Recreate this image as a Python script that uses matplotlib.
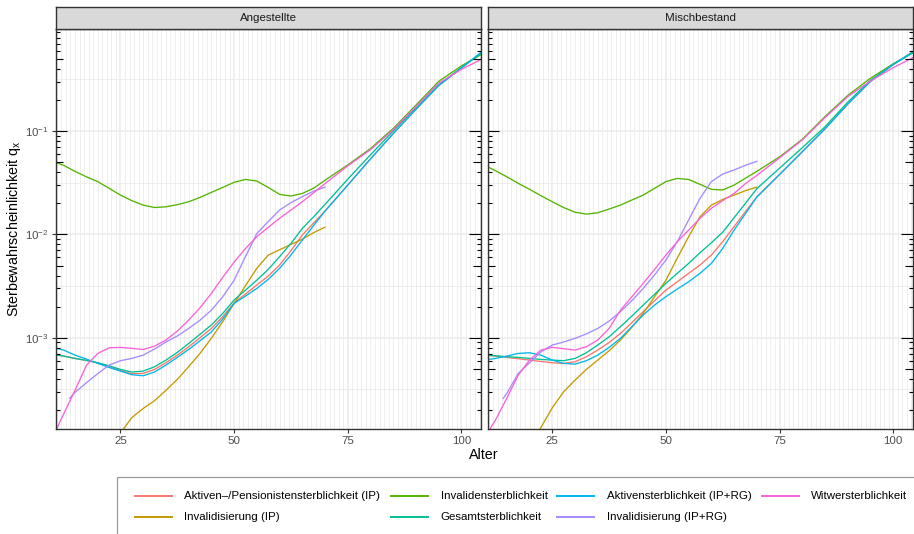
import numpy as np
import matplotlib
matplotlib.use("Agg")
import matplotlib.pyplot as plt
from matplotlib.ticker import FixedLocator, MultipleLocator, LogFormatterMathtext, NullFormatter
from matplotlib.transforms import blended_transform_factory
from matplotlib.lines import Line2D
from matplotlib.patches import Rectangle

plt.rcParams["font.family"] = ["Liberation Sans", "DejaVu Sans"]

# ---- data ----
panels = ["Angestellte", "Mischbestand"]
series_names = [
    "Aktiven\u2013/Pensionistensterblichkeit (IP)",
    "Invalidisierung (IP)",
    "Invalidensterblichkeit",
    "Gesamtsterblichkeit",
    "Aktivensterblichkeit (IP+RG)",
    "Invalidisierung (IP+RG)",
    "Witwersterblichkeit",
]
colors = ["#F8766D", "#C49A00", "#53B400", "#00C094", "#00B6EB", "#A58AFF", "#FB61D7"]

ages_grid = [10, 12.5, 15, 17.5, 20, 22.5, 25, 27.5, 30, 32.5, 35, 37.5, 40, 42.5, 45, 47.5, 50,
             52.5, 55, 57.5, 60, 62.5, 65, 67.5, 70, 75, 80, 85, 90, 95, 100, 105]

# --- Angestellte ---
ang_aktiv_ip = [7.0e-4, 6.65e-4, 6.31e-4, 6.04e-4, 5.73e-4, 5.24e-4, 4.80e-4, 4.49e-4, 4.52e-4, 4.94e-4,
                5.73e-4, 6.79e-4, 8.18e-4, 1.0e-3, 1.23e-3, 1.60e-3, 2.18e-3, 2.65e-3, 3.24e-3, 3.95e-3,
                5.05e-3, 6.95e-3, 9.86e-3, 0.0129, 0.0168, 0.030, 0.0537, 0.0944, 0.162, 0.275, 0.407, 0.60]
ang_gesamt = [6.9e-4, 6.65e-4, 6.31e-4, 6.04e-4, 5.73e-4, 5.36e-4, 4.94e-4, 4.66e-4, 4.76e-4, 5.24e-4,
              6.08e-4, 7.21e-4, 8.81e-4, 1.08e-3, 1.33e-3, 1.72e-3, 2.32e-3, 2.89e-3, 3.61e-3, 4.58e-3,
              6.08e-3, 8.18e-3, 0.0114, 0.0148, 0.0195, 0.0342, 0.0589, 0.1, 0.168, 0.279, 0.412, 0.59]
ang_aktiv_rg = [8.1e-4, 7.6e-4, 6.79e-4, 6.22e-4, 5.65e-4, 5.16e-4, 4.76e-4, 4.39e-4, 4.29e-4, 4.66e-4,
                5.44e-4, 6.46e-4, 7.71e-4, 9.35e-4, 1.14e-3, 1.52e-3, 2.15e-3, 2.53e-3, 3.0e-3, 3.67e-3,
                4.69e-3, 6.31e-3, 8.81e-3, 0.0122, 0.0168, 0.030, 0.0537, 0.0944, 0.162, 0.275, 0.407, 0.61]
ang_invsterb = [0.051, 0.0466, 0.0407, 0.0361, 0.0324, 0.0279, 0.0240, 0.0212, 0.0192, 0.0182, 0.0185,
                0.0194, 0.0207, 0.0228, 0.0255, 0.0285, 0.0319, 0.0340, 0.0328, 0.0285, 0.0244, 0.0235,
                0.0249, 0.028, 0.0334, 0.047, 0.0676, 0.106, 0.178, 0.302, 0.427, 0.57]
ang_witwer_ages = [10, 12, 15, 17.5, 20, 22.5, 25, 27.5, 30, 32.5, 35, 37.5, 40, 42.5, 45, 47.5, 50,
                   52.5, 55, 57.5, 60, 62.5, 65, 67.5, 70, 75, 80, 85, 90, 95, 100, 105]
ang_witwer = [1.05e-4, 1.65e-4, 3.1e-4, 5.4e-4, 7.05e-4, 8.0e-4, 8.07e-4, 7.9e-4, 7.7e-4, 8.3e-4, 9.5e-4,
              1.16e-3, 1.48e-3, 1.95e-3, 2.69e-3, 3.84e-3, 5.4e-3, 7.3e-3, 9.5e-3, 0.0117, 0.0143, 0.0172,
              0.0207, 0.0253, 0.031, 0.046, 0.066, 0.103, 0.172, 0.29, 0.395, 0.51]
ang_inv_rg_ages = [13.8, 15, 17.5, 20, 22.5, 25, 27.5, 30, 32.5, 35, 37.5, 40, 42.5, 45, 47.5, 50, 52.5,
                   55, 57.5, 60, 62.5, 65, 67.5, 70]
ang_inv_rg = [2.59e-4, 2.96e-4, 3.67e-4, 4.5e-4, 5.44e-4, 6.0e-4, 6.31e-4, 6.79e-4, 7.78e-4, 9.1e-4,
              1.04e-3, 1.23e-3, 1.48e-3, 1.85e-3, 2.49e-3, 3.6e-3, 6.1e-3, 0.0102, 0.0133, 0.0172, 0.0203,
              0.0232, 0.0262, 0.0287]
ang_inv_ip_ages = [24, 25.6, 27.5, 30, 32.5, 35, 37.5, 40, 42.5, 45, 47.5, 50, 52.5, 55, 57.5, 60, 62.5,
                   65, 67.5, 70]
ang_inv_ip = [1.0e-4, 1.3e-4, 1.69e-4, 2.07e-4, 2.46e-4, 3.1e-4, 3.95e-4, 5.25e-4, 7.05e-4, 9.9e-4,
              1.43e-3, 2.15e-3, 3.19e-3, 4.7e-3, 6.3e-3, 7.1e-3, 8.0e-3, 9.0e-3, 0.0104, 0.01175]

# --- Mischbestand ---
mis_aktiv_ip = [6.79e-4, 6.65e-4, 6.46e-4, 6.27e-4, 6.08e-4, 5.9e-4, 5.73e-4, 5.65e-4, 5.86e-4, 6.55e-4,
                7.6e-4, 9.0e-4, 1.1e-3, 1.40e-3, 1.79e-3, 2.28e-3, 2.89e-3, 3.48e-3, 4.2e-3, 5.05e-3,
                6.31e-3, 8.5e-3, 0.0119, 0.0166, 0.023, 0.038, 0.063, 0.105, 0.182, 0.302, 0.44, 0.61]
mis_gesamt = [6.79e-4, 6.70e-4, 6.55e-4, 6.46e-4, 6.31e-4, 6.17e-4, 6.08e-4, 6.0e-4, 6.31e-4, 7.16e-4,
              8.5e-4, 1.02e-3, 1.28e-3, 1.62e-3, 2.07e-3, 2.63e-3, 3.36e-3, 4.2e-3, 5.24e-3, 6.65e-3,
              8.3e-3, 0.0105, 0.0145, 0.020, 0.0277, 0.0437, 0.069, 0.11, 0.19, 0.31, 0.44, 0.596]
mis_aktiv_rg = [6.08e-4, 6.31e-4, 6.65e-4, 7.05e-4, 7.16e-4, 6.79e-4, 6.08e-4, 5.65e-4, 5.56e-4, 6.0e-4,
                6.79e-4, 8.07e-4, 9.86e-4, 1.28e-3, 1.66e-3, 2.07e-3, 2.5e-3, 2.96e-3, 3.48e-3, 4.2e-3,
                5.24e-3, 7.32e-3, 0.011, 0.0159, 0.023, 0.038, 0.063, 0.105, 0.182, 0.302, 0.44, 0.61]
mis_invsterb = [0.047, 0.0413, 0.0361, 0.0312, 0.0273, 0.0237, 0.0207, 0.0182, 0.0164, 0.0157, 0.0162,
                0.0176, 0.0192, 0.0215, 0.0240, 0.0279, 0.0324, 0.0348, 0.0340, 0.0305, 0.0273, 0.0269,
                0.0300, 0.035, 0.0407, 0.0562, 0.0832, 0.138, 0.221, 0.324, 0.447, 0.596]
mis_witwer_ages = [10, 11.6, 12.5, 15, 17.5, 20, 22.5, 25, 27.5, 30, 32.5, 35, 37.5, 40, 42.5, 45, 47.5,
                   50, 52.5, 55, 57.5, 60, 62.5, 65, 67.5, 70, 75, 80, 85, 90, 95, 100, 105]
mis_witwer = [1.0e-4, 1.38e-4, 1.6e-4, 2.6e-4, 4.35e-4, 6.08e-4, 7.6e-4, 8.07e-4, 7.83e-4, 7.6e-4,
              8.18e-4, 9.5e-4, 1.23e-3, 1.85e-3, 2.49e-3, 3.36e-3, 4.58e-3, 6.3e-3, 8.5e-3, 0.011, 0.0143,
              0.0179, 0.0212, 0.0249, 0.031, 0.0372, 0.055, 0.082, 0.135, 0.215, 0.305, 0.41, 0.53]
mis_inv_rg_ages = [14.2, 15, 17.5, 20, 22.5, 25, 27.5, 30, 32.5, 35, 37.5, 40, 42.5, 45, 47.5, 50, 52.5,
                   55, 57.5, 60, 62.5, 65, 67.5, 70]
mis_inv_rg = [2.59e-4, 2.9e-4, 4.5e-4, 5.73e-4, 7.3e-4, 8.5e-4, 9.1e-4, 9.86e-4, 1.09e-3, 1.23e-3,
              1.45e-3, 1.79e-3, 2.28e-3, 3.0e-3, 4.05e-3, 5.65e-3, 8.5e-3, 0.0138, 0.0223, 0.0324, 0.0384,
              0.042, 0.0466, 0.0509]
mis_inv_ip_ages = [21.5, 22.6, 25, 27.5, 30, 32.5, 35, 37.5, 40, 42.5, 45, 47.5, 50, 52.5, 55, 57.5, 60,
                   62.5, 65, 67.5, 70]
mis_inv_ip = [1.1e-4, 1.38e-4, 2.1e-4, 3.0e-4, 3.89e-4, 4.94e-4, 6.08e-4, 7.48e-4, 9.5e-4, 1.26e-3,
              1.72e-3, 2.49e-3, 3.6e-3, 5.9e-3, 9.5e-3, 0.0148, 0.0192, 0.0218, 0.024, 0.0265, 0.0287]

panel_data = {
    "Angestellte": [
        (ages_grid, ang_aktiv_ip), (ang_inv_ip_ages, ang_inv_ip), (ages_grid, ang_invsterb),
        (ages_grid, ang_gesamt), (ages_grid, ang_aktiv_rg), (ang_inv_rg_ages, ang_inv_rg),
        (ang_witwer_ages, ang_witwer)],
    "Mischbestand": [
        (ages_grid, mis_aktiv_ip), (mis_inv_ip_ages, mis_inv_ip), (ages_grid, mis_invsterb),
        (ages_grid, mis_gesamt), (ages_grid, mis_aktiv_rg), (mis_inv_rg_ages, mis_inv_rg),
        (mis_witwer_ages, mis_witwer)],
}

x_ticks = [25, 50, 75, 100]
y_ticks = [1e-3, 1e-2, 1e-1]

# ---- layout ----
W, H = 914, 534
fig = plt.figure(figsize=(W / 100, H / 100), dpi=100)

panel_px = [(55.7, 480.7), (487.5, 912.5)]
top_px, bottom_px = 29, 429
grey30 = "#4D4D4D"

for i, name in enumerate(panels):
    x0, x1 = panel_px[i]
    ax = fig.add_axes([x0 / W, 1 - bottom_px / H, (x1 - x0) / W, (bottom_px - top_px) / H])
    ax.set_yscale("log")
    ax.set_xlim(10.75, 104.25)
    ax.set_ylim(1.31e-4, 0.971)

    # grid
    ax.xaxis.set_major_locator(FixedLocator(x_ticks))
    ax.xaxis.set_minor_locator(MultipleLocator(1))
    ax.yaxis.set_major_locator(FixedLocator(y_ticks))
    ax.yaxis.set_minor_locator(FixedLocator([10 ** -3.5, 10 ** -2.5, 10 ** -1.5, 10 ** -0.5]))
    ax.yaxis.set_minor_formatter(NullFormatter())
    ax.grid(which="major", color="#EBEBEB", lw=1.1)
    ax.grid(which="minor", color="#EBEBEB", lw=0.6)
    ax.set_axisbelow(True)
    ax.tick_params(which="minor", length=0)
    ax.tick_params(which="major", direction="out", length=2.75, width=0.8, color="#333333",
                   labelsize=8.25, labelcolor=grey30, pad=2)
    if i == 0:
        ax.yaxis.set_major_formatter(LogFormatterMathtext())
    else:
        ax.tick_params(axis="y", which="both", length=0, labelleft=False)

    for sp in ax.spines.values():
        sp.set_color("#333333")
        sp.set_linewidth(1.0)
        sp.set_zorder(5)

    # annotation log ticks on left and right sides
    trans = blended_transform_factory(ax.transAxes, ax.transData)
    pw = x1 - x0
    for k in range(-4, 0):
        for m in range(1, 10):
            v = m * 10.0 ** k
            ln = 11.5 if m == 1 else (7.5 if m == 5 else 4.0)
            f = ln / pw
            ax.plot([0, f], [v, v], color="black", lw=0.8, transform=trans, zorder=4,
                    solid_capstyle="butt")
            ax.plot([1 - f, 1], [v, v], color="black", lw=0.8, transform=trans, zorder=4,
                    solid_capstyle="butt")

    for (ages, vals), c in zip(panel_data[name], colors):
        ax.plot(ages, vals, color=c, lw=0.95, zorder=3, solid_joinstyle="round")

    # strip
    sax = fig.add_axes([x0 / W, 1 - top_px / H, pw / W, 22 / H])
    sax.set_facecolor("#D9D9D9")
    sax.set_xticks([])
    sax.set_yticks([])
    for sp in sax.spines.values():
        sp.set_color("#333333")
        sp.set_linewidth(1.0)
    sax.text(0.5, 0.5, name, ha="center", va="center", fontsize=8.25, color="#1A1A1A",
             transform=sax.transAxes)

# axis titles
fig.text(484.2 / W, 1 - 455 / H, "Alter", ha="center", va="center", fontsize=10.3)
fig.text(14 / W, 1 - 229 / H, "Sterbewahrscheinlichkeit q$_\\mathregular{x}$", ha="center",
         va="center", rotation=90, fontsize=10.3)

# legend (drawn by hand to match the boxed bottom legend)
fig.patches.append(Rectangle((116.7 / W, -0.2), (917 - 116.7) / W, 0.2 + 1 - 476.7 / H,
                             transform=fig.transFigure, fill=False, edgecolor="#9A9A9A", lw=0.9))
col_x = [135, 391, 557.3, 761.7]
row_y = [495.7, 517.3]
for j, (lab, c) in enumerate(zip(series_names, colors)):
    col, row = j // 2, j % 2
    hx = col_x[col]
    y = 1 - row_y[row] / H
    fig.lines.append(Line2D([hx / W, (hx + 37) / W], [y, y], color=c, lw=1.4,
                            transform=fig.transFigure))
    fig.text((hx + 49.5) / W, y, lab, ha="left", va="center", fontsize=8.25)

fig.savefig("out.png", dpi=100)
